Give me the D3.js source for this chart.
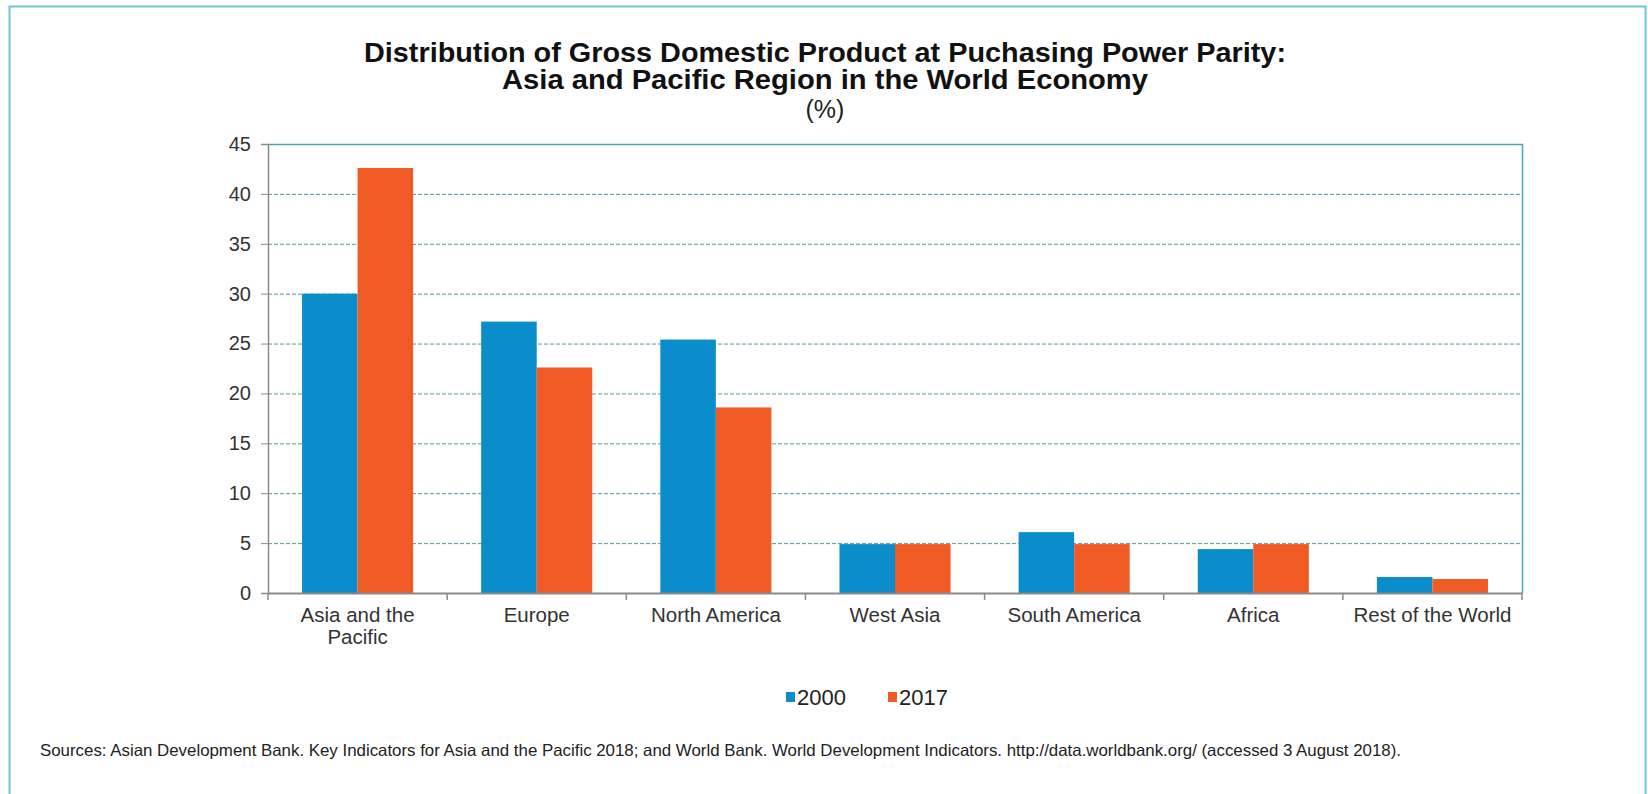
<!DOCTYPE html>
<html>
<head>
<meta charset="utf-8">
<script src="https://cdn.jsdelivr.net/npm/d3@7"></script>
<style>
  html, body { margin: 0; padding: 0; background: #fff; }
  svg { display: block; font-family: "Liberation Sans", Arial, sans-serif; }
</style>
</head>
<body>
<svg id="chart" width="1648" height="794"></svg>
<script>
// GDP (PPP) shares by region, in percent
const regions = ["Asia and the Pacific", "Europe", "North America", "West Asia", "South America", "Africa", "Rest of the World"];
const years = ["2000", "2017"];
const share2000 = [30.0, 27.2, 25.4, 4.9, 6.1, 4.4, 1.6];
const share2017 = [42.6, 22.6, 18.6, 4.9, 4.9, 4.9, 1.4];
const yTicks = [0, 5, 10, 15, 20, 25, 30, 35, 40, 45];

const colors = { "2000": "#0b8dcb", "2017": "#f05a24" };
const rows = regions.map((r, i) => ({ region: r, "2000": share2000[i], "2017": share2017[i] }));

const svg = d3.select("#chart");
const plot = { left: 268, right: 1522, top: 144, bottom: 593 };

// outer frame
svg.append("rect")
  .attr("x", 9.5).attr("y", 6.5).attr("width", 1636).attr("height", 800)
  .attr("fill", "none").attr("stroke", "#6cc9cf").attr("stroke-width", 2);

const x0 = d3.scaleBand().domain(regions).range([plot.left, plot.right])
  .paddingInner(0.38).paddingOuter(0.19);
const x1 = d3.scaleBand().domain(years).range([0, x0.bandwidth()]);
const y = d3.scaleLinear().domain([0, 45]).range([plot.bottom, plot.top]);

// dashed gridlines
svg.append("g").selectAll("line").data(yTicks.filter(t => t > 0 && t < 45)).join("line")
  .attr("x1", plot.left).attr("x2", plot.right)
  .attr("y1", d => y(d) + 0.5).attr("y2", d => y(d) + 0.5)
  .attr("stroke", "#4e9aa2").attr("stroke-width", 1).attr("stroke-dasharray", "4,2");

// top and right border of plot area
svg.append("path")
  .attr("d", `M${plot.left},${plot.top + 0.5}H${plot.right + 0.5}V${plot.bottom}`)
  .attr("fill", "none").attr("stroke", "#45a9ae").attr("stroke-width", 1.5);

// bars
svg.append("g").selectAll("g").data(rows).join("g")
  .attr("transform", d => `translate(${x0(d.region)},0)`)
  .selectAll("rect").data(d => years.map(k => ({ key: k, value: d[k] }))).join("rect")
  .attr("x", d => x1(d.key)).attr("width", x1.bandwidth())
  .attr("y", d => y(d.value)).attr("height", d => y(0) - y(d.value))
  .attr("fill", d => colors[d.key]);

// y axis
const yAxis = svg.append("g").attr("transform", `translate(${plot.left},0)`)
  .call(d3.axisLeft(y).tickValues(yTicks).tickSize(7).tickPadding(10));
yAxis.select(".domain").attr("stroke", "#8a8a8a").attr("stroke-width", 1.5);
yAxis.selectAll(".tick line").attr("stroke", "#8a8a8a");
yAxis.selectAll(".tick text").attr("font-size", 20).attr("fill", "#333")
  .attr("font-family", "Liberation Sans, Arial, sans-serif");

// x axis: baseline, boundary ticks, wrapped labels
const xAxis = svg.append("g").attr("transform", `translate(0,${plot.bottom})`)
  .call(d3.axisBottom(x0).tickSize(0).tickPadding(14));
xAxis.select(".domain").attr("stroke", "#8a8a8a").attr("stroke-width", 2);
xAxis.selectAll(".tick text").attr("font-size", 20.5).attr("fill", "#333")
  .attr("font-family", "Liberation Sans, Arial, sans-serif")
  .call(wrap, 170);

const edges = d3.range(regions.length + 1).map(i => plot.left + i * x0.step());
xAxis.append("g").selectAll("line").data(edges).join("line")
  .attr("x1", d => d).attr("x2", d => d).attr("y1", 0).attr("y2", 7)
  .attr("stroke", "#8a8a8a").attr("stroke-width", 1.5);

function wrap(text, width) {
  text.each(function () {
    const t = d3.select(this);
    const words = t.text().split(/\s+/);
    const yy = t.attr("y"), dy = parseFloat(t.attr("dy"));
    let line = [], lineNo = 0;
    let tspan = t.text(null).append("tspan").attr("x", 0).attr("y", yy).attr("dy", dy + "em");
    for (const w of words) {
      line.push(w);
      tspan.text(line.join(" "));
      if (tspan.node().getComputedTextLength() > width && line.length > 1) {
        line.pop();
        tspan.text(line.join(" "));
        line = [w];
        tspan = t.append("tspan").attr("x", 0).attr("y", yy)
          .attr("dy", (++lineNo * 1.08 + dy) + "em").text(w);
      }
    }
  });
}

// titles
const cx = 825;
svg.append("text").attr("x", cx).attr("y", 62).attr("text-anchor", "middle")
  .attr("font-size", 27).attr("font-weight", "bold").attr("fill", "#111")
  .attr("textLength", 922).attr("lengthAdjust", "spacingAndGlyphs")
  .text("Distribution of Gross Domestic Product at Puchasing Power Parity:");
svg.append("text").attr("x", cx).attr("y", 89).attr("text-anchor", "middle")
  .attr("font-size", 27).attr("font-weight", "bold").attr("fill", "#111")
  .attr("textLength", 646).attr("lengthAdjust", "spacingAndGlyphs")
  .text("Asia and Pacific Region in the World Economy");
svg.append("text").attr("x", cx).attr("y", 118).attr("text-anchor", "middle")
  .attr("font-size", 25).attr("fill", "#222")
  .text("(%)");

// legend
const legend = svg.append("g").selectAll("g").data(years).join("g")
  .attr("transform", (d, i) => `translate(${786 + i * 102},697)`);
legend.append("rect").attr("x", 0).attr("y", -5).attr("width", 9).attr("height", 10)
  .attr("fill", d => colors[d]);
legend.append("text").attr("x", 11).attr("y", 8).attr("font-size", 22).attr("fill", "#222")
  .text(d => d);

// sources note
svg.append("text").attr("x", 40).attr("y", 756).attr("font-size", 16.5).attr("fill", "#222")
  .attr("textLength", 1361).attr("lengthAdjust", "spacingAndGlyphs")
  .text("Sources: Asian Development Bank. Key Indicators for Asia and the Pacific 2018; and World Bank. World Development Indicators. http://data.worldbank.org/ (accessed 3 August 2018).");
</script>
</body>
</html>
